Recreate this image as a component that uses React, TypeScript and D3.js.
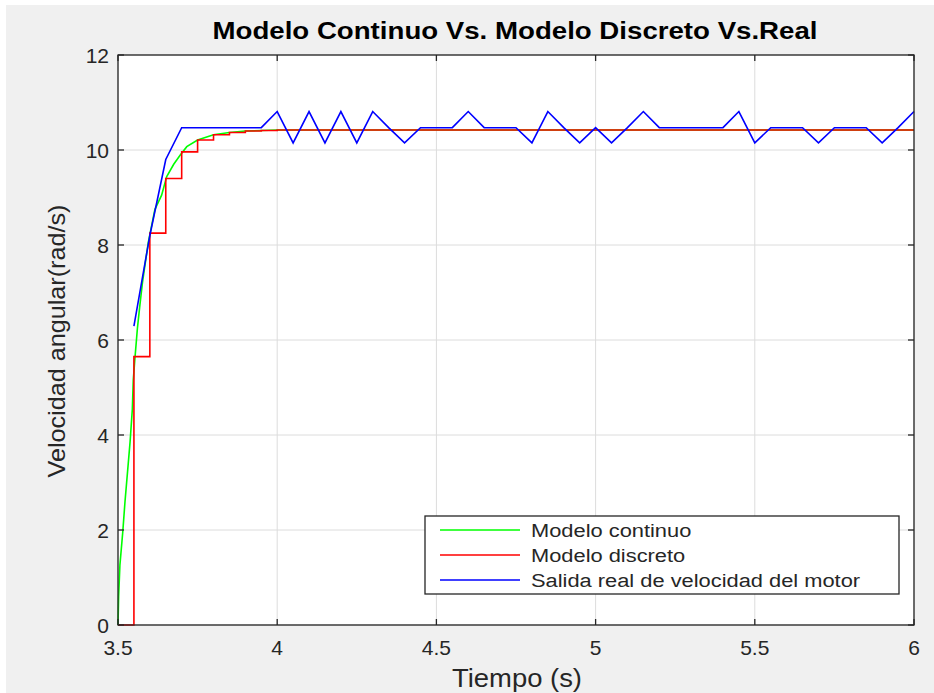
import React from "react";
import * as d3 from "d3";

const W = 934;
const H = 693;

const xTicks = [3.5, 4, 4.5, 5, 5.5, 6];
const xTickLabels = ["3.5", "4", "4.5", "5", "5.5", "6"];
const yTicks = [0, 2, 4, 6, 8, 10, 12];
const yTickLabels = ["0", "2", "4", "6", "8", "10", "12"];

const greenT = [3.5, 3.502, 3.506, 3.515, 3.522, 3.53, 3.538, 3.545, 3.548, 3.553, 3.561, 3.569, 3.577, 3.587, 3.595, 3.606, 3.616, 3.637, 3.653, 3.675, 3.695, 3.716, 3.75, 3.8, 3.85, 3.9, 3.95, 4.0, 6.0];
const greenV = [0, 0.6, 1.26, 1.96, 2.6, 3.23, 3.86, 4.54, 5.16, 5.6, 6.25, 6.75, 7.22, 7.68, 8.05, 8.42, 8.75, 9.05, 9.44, 9.7, 9.89, 10.07, 10.21, 10.32, 10.37, 10.4, 10.41, 10.42, 10.42];

const redT = [3.5, 3.55, 3.6, 3.65, 3.7, 3.75, 3.8, 3.85, 3.9, 3.95, 4.0, 6.0];
const redV = [0, 5.65, 8.25, 9.4, 9.96, 10.21, 10.32, 10.37, 10.4, 10.41, 10.42, 10.42];

const blueT = [3.55, 3.6, 3.65, 3.7, 3.75, 3.8, 3.85, 3.9, 3.95, 4.0, 4.05, 4.1, 4.15, 4.2, 4.25, 4.3, 4.35, 4.4, 4.45, 4.5, 4.55, 4.6, 4.65, 4.7, 4.75, 4.8, 4.85, 4.9, 4.95, 5.0, 5.05, 5.1, 5.15, 5.2, 5.25, 5.3, 5.35, 5.4, 5.45, 5.5, 5.55, 5.6, 5.65, 5.7, 5.75, 5.8, 5.85, 5.9, 5.95, 6.0];
const blueV = [6.29, 8.2, 9.8, 10.47, 10.47, 10.47, 10.47, 10.47, 10.47, 10.81, 10.15, 10.81, 10.15, 10.81, 10.15, 10.81, 10.47, 10.15, 10.47, 10.47, 10.47, 10.81, 10.47, 10.47, 10.47, 10.15, 10.81, 10.47, 10.15, 10.47, 10.15, 10.47, 10.81, 10.47, 10.47, 10.47, 10.47, 10.47, 10.81, 10.15, 10.47, 10.47, 10.47, 10.15, 10.47, 10.47, 10.47, 10.15, 10.47, 10.81];

const legendLabels = ["Modelo continuo", "Modelo discreto", "Salida real de velocidad del motor"];
const seriesColors = ["#00ff00", "#ff0000", "#0000ff"];

export default function App() {
  const left = 118, right = 914, top = 55, bottom = 625;
  const x = d3.scaleLinear().domain([3.5, 6]).range([left, right]);
  const y = d3.scaleLinear().domain([0, 12]).range([bottom, top]);

  const toPts = (t: number[], v: number[]) => t.map((tt, i) => [tt, v[i]] as [number, number]);
  const line = d3.line<[number, number]>().x(d => x(d[0])).y(d => y(d[1]));
  const stair = d3.line<[number, number]>().x(d => x(d[0])).y(d => y(d[1])).curve(d3.curveStepAfter);

  const axisColor = "#262626";
  const font = "'Liberation Sans', Arial, Helvetica, sans-serif";
  const tickLen = 6;

  return (
    <svg width={W} height={H} style={{ position: "absolute", left: 0, top: 0, display: "block" }} fontFamily={font}>
      <rect x={0} y={0} width={W} height={H} fill="#ffffff" />
      <rect x={6} y={5} width={W - 6} height={H - 5} fill="#f0f0f0" />
      <rect x={left} y={top} width={right - left} height={bottom - top} fill="#ffffff" />
      {/* grid */}
      {xTicks.map((t, i) => (
        <line key={"gx" + i} x1={x(t)} x2={x(t)} y1={top} y2={bottom} stroke="#dcdcdc" strokeWidth={1} />
      ))}
      {yTicks.map((t, i) => (
        <line key={"gy" + i} x1={left} x2={right} y1={y(t)} y2={y(t)} stroke="#dcdcdc" strokeWidth={1} />
      ))}
      {/* series */}
      <g clipPath="url(#clip)">
        <path d={line(toPts(greenT, greenV)) || ""} fill="none" stroke={seriesColors[0]} strokeWidth={1.6} />
        <path d={stair(toPts(redT, redV)) || ""} fill="none" stroke={seriesColors[1]} strokeWidth={1.6} />
        <path d={line(toPts(blueT, blueV)) || ""} fill="none" stroke={seriesColors[2]} strokeWidth={1.6} />
      </g>
      <defs>
        <clipPath id="clip">
          <rect x={left - 1} y={top - 1} width={right - left + 2} height={bottom - top + 2} />
        </clipPath>
      </defs>
      {/* box */}
      <rect x={left} y={top} width={right - left} height={bottom - top} fill="none" stroke={axisColor} strokeWidth={1.3} />
      {/* ticks */}
      {xTicks.map((t, i) => (
        <g key={"tx" + i}>
          <line x1={x(t)} x2={x(t)} y1={bottom} y2={bottom - tickLen} stroke={axisColor} strokeWidth={1.3} />
          <line x1={x(t)} x2={x(t)} y1={top} y2={top + tickLen} stroke={axisColor} strokeWidth={1.3} />
          <text x={x(t)} y={bottom + 30} textAnchor="middle" fontSize={21} fill={axisColor}>{xTickLabels[i]}</text>
        </g>
      ))}
      {yTicks.map((t, i) => (
        <g key={"ty" + i}>
          <line x1={left} x2={left + tickLen} y1={y(t)} y2={y(t)} stroke={axisColor} strokeWidth={1.3} />
          <line x1={right} x2={right - tickLen} y1={y(t)} y2={y(t)} stroke={axisColor} strokeWidth={1.3} />
          <text x={left - 9} y={y(t) + 7.5} textAnchor="end" fontSize={21} fill={axisColor}>{yTickLabels[i]}</text>
        </g>
      ))}
      {/* title */}
      <text x={515} y={39} textAnchor="middle" fontSize={23} fontWeight="bold" fill="#000" textLength={605} lengthAdjust="spacingAndGlyphs">
        Modelo Continuo Vs. Modelo Discreto Vs.Real
      </text>
      {/* axis labels */}
      <text x={517} y={687} textAnchor="middle" fontSize={26} fill={axisColor} textLength={130} lengthAdjust="spacingAndGlyphs">Tiempo (s)</text>
      <text transform={`translate(65,341) rotate(-90)`} textAnchor="middle" fontSize={24} fill={axisColor} textLength={273} lengthAdjust="spacingAndGlyphs">Velocidad angular(rad/s)</text>
      {/* legend */}
      <rect x={425} y={516} width={474} height={78} fill="#ffffff" stroke={axisColor} strokeWidth={1.3} />
      {legendLabels.map((lab, i) => {
        const ly = 530 + i * 25;
        return (
          <g key={"lg" + i}>
            <line x1={440} x2={520} y1={ly} y2={ly} stroke={seriesColors[i]} strokeWidth={1.6} />
            <g transform={`translate(531,${ly + 6.5}) scale(1.15,1)`}>
              <text x={0} y={0} fontSize={19} fill={axisColor}>{lab}</text>
            </g>
          </g>
        );
      })}
    </svg>
  );
}
